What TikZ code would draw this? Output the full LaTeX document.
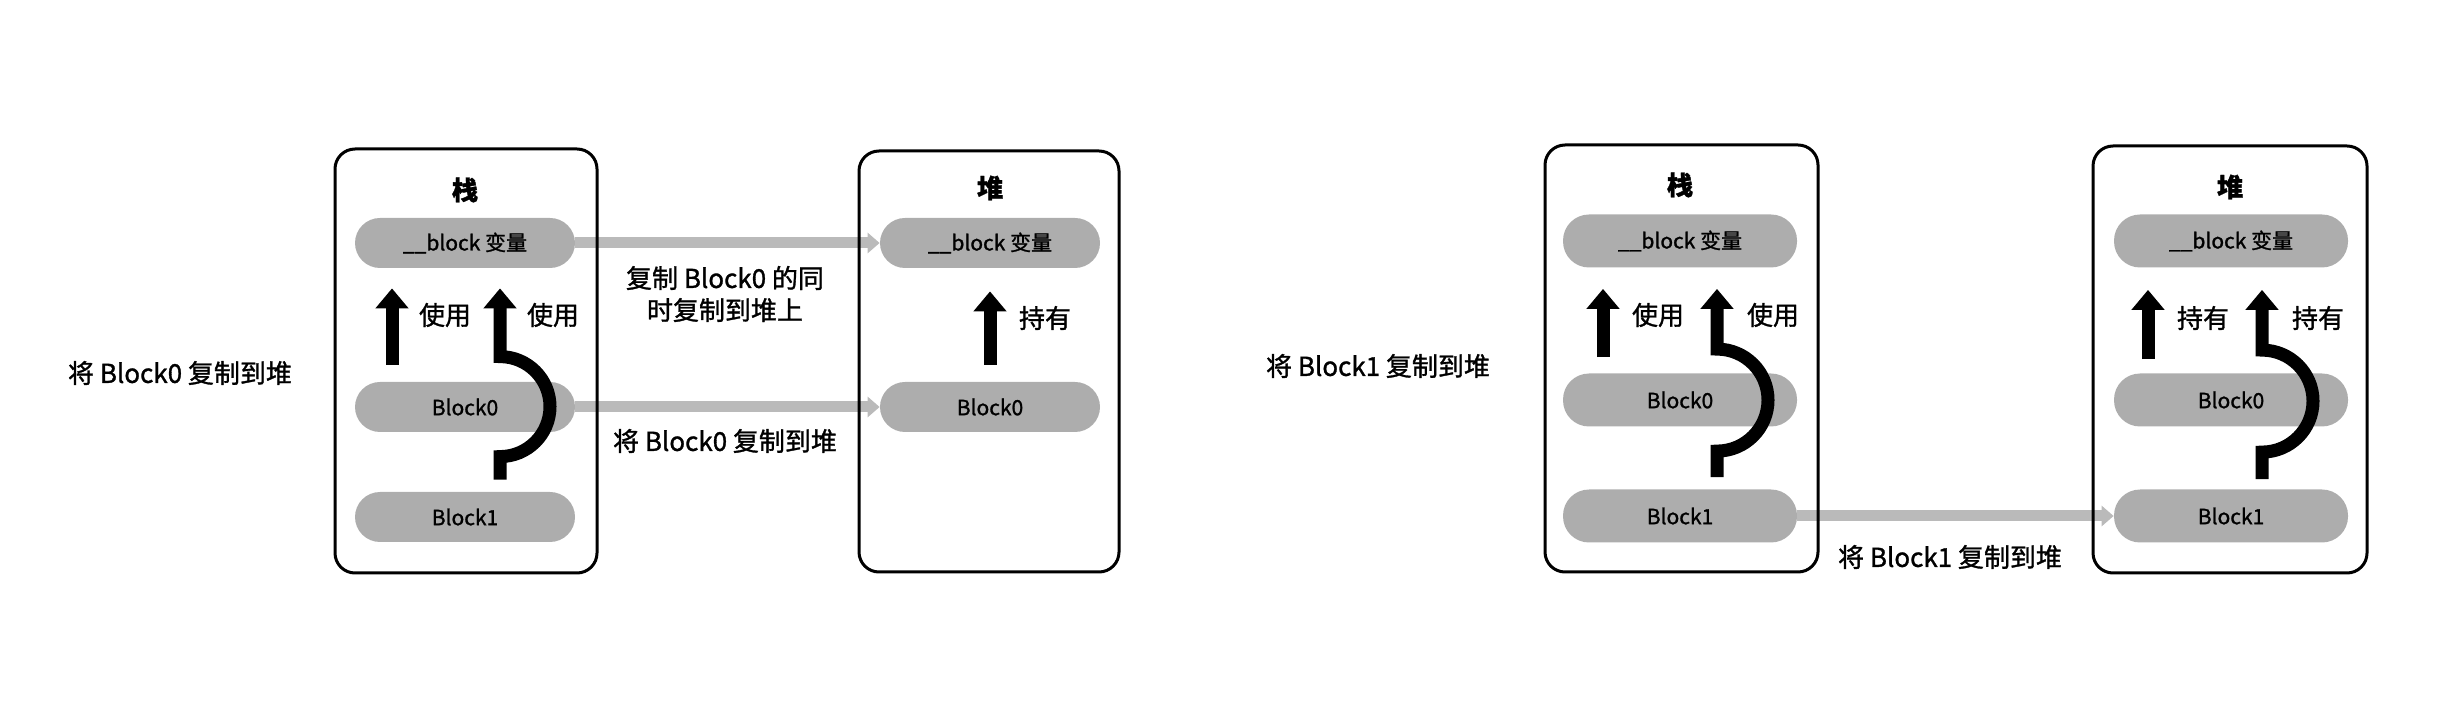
\documentclass[tikz,border=0pt]{standalone}
\usepackage{fontspec}
\setmainfont{Noto Sans CJK SC}[RawFeature={embolden=1.2}]
\usetikzlibrary{arrows.meta}
\usetikzlibrary{calc,positioning}

\begin{document}
\begin{tikzpicture}[x=0.5pt, y=-0.5pt,
    areabox/.style={draw, line width=1.5pt, rounded corners=10pt},
    pill/.style={fill=black!32, rounded corners=12.5pt, minimum width=110pt,
      minimum height=25pt, inner sep=0pt, font=\fontsize{10.5}{12}\selectfont},
    widepill/.style={pill, minimum width=117pt, minimum height=26.5pt, rounded corners=13pt},
    boxtitle/.style={font=\fontsize{13}{15}\selectfont\bfseries},
    tag/.style={font=\fontsize{13}{16}\selectfont, align=center},
    holdarrow/.style={line width=6.5pt, -{Triangle[width=16pt,length=10pt]}},
    copyarrow/.style={draw=black!27, line width=5.5pt, -{Triangle[width=10pt,length=6pt]}}]

      \useasboundingbox (0,0) rectangle (2444,704);

      % part 1: Block0 to the heap
      \node [tag] (caption1) at (180,373) {将 Block0 复制到堆};

      % stack 1
      \node [boxtitle] (s1_title) at (465,190) {栈};
      \node [pill] (s1_var) at (465,243) {\_\_block 变量};
      \node [pill] (s1_b0) at (465,407) {Block0};
      \node [pill] (s1_b1) at (465,517) {Block1};

      % heap 1
      \node [boxtitle] (h1_title) at (990,188) {堆};
      \node [pill] (h1_var) at (990,243) {\_\_block 变量};
      \node [pill] (h1_b0) at (990,407) {Block0};

      \draw [copyarrow] (s1_var.east) -- (h1_var.west);
      \draw [copyarrow] (s1_b0.east) -- (h1_b0.west);
      \node [tag] (note1) at (725,294) {复制 Block0 的同\\时复制到堆上};
      \node [tag] (label1) at (725,441) {将 Block0 复制到堆};

      \draw [areabox] (335,149) rectangle (597,573);
      \draw [areabox] (859,151) rectangle (1119,572);

      \draw [holdarrow] ($(s1_b0.north)+(-73,-17)$) -- ($(s1_var.south)+(-73,20)$);
      \node [tag] (s1_use1) at (445,315) {使用};
      \draw [holdarrow] ($(s1_b1.north)+(35,-12)$) -- ++(0,-23)
      arc [start angle=90, end angle=-90, radius=50] -- ($(s1_var.south)+(35,20)$);
      \node [tag] (s1_use2) at (553,315) {使用};

      \draw [holdarrow] ($(h1_b0.north)+(0,-17)$) -- ($(h1_var.south)+(0,23)$);
      \node [tag] (h1_hold) at (1045,318) {持有};

      % part 2: Block1 to the heap
      \node [tag] (caption2) at (1378,366) {将 Block1 复制到堆};

      % stack 2
      \node [boxtitle] (s2_title) at (1680,185) {栈};
      \node [widepill] (s2_var) at (1680,241) {\_\_block 变量};
      \node [widepill] (s2_b0) at (1680,400) {Block0};
      \node [widepill] (s2_b1) at (1680,516) {Block1};

      % heap 2
      \node [boxtitle] (h2_title) at (2230,187) {堆};
      \node [widepill] (h2_var) at (2231,241) {\_\_block 变量};
      \node [widepill] (h2_b0) at (2231,400) {Block0};
      \node [widepill] (h2_b1) at (2231,516) {Block1};

      \draw [copyarrow] (s2_b1.east) -- (h2_b1.west);
      \node [tag] (label2) at (1950,557) {将 Block1 复制到堆};

      \draw [areabox] (1545,145) rectangle (1818,572);
      \draw [areabox] (2093,146) rectangle (2367,573);

      \draw [holdarrow] ($(s2_b0.north)+(-77,-16)$) -- ($(s2_var.south)+(-77,21)$);
      \node [tag] (s2_use1) at (1658,315) {使用};
      \draw [holdarrow] ($(s2_b1.north)+(37,-12)$) -- ++(0,-26)
      arc [start angle=90, end angle=-90, radius=51] -- ($(s2_var.south)+(37,21)$);
      \node [tag] (s2_use2) at (1773,315) {使用};

      \draw [holdarrow] ($(h2_b0.north)+(-83,-14)$) -- ($(h2_var.south)+(-83,22)$);
      \node [tag] (h2_hold1) at (2203,318) {持有};
      \draw [holdarrow] ($(h2_b1.north)+(31,-10)$) -- ++(0,-27)
      arc [start angle=90, end angle=-90, radius=51] -- ($(h2_var.south)+(31,22)$);
      \node [tag] (h2_hold2) at (2318,318) {持有};

\end{tikzpicture}
\end{document}
